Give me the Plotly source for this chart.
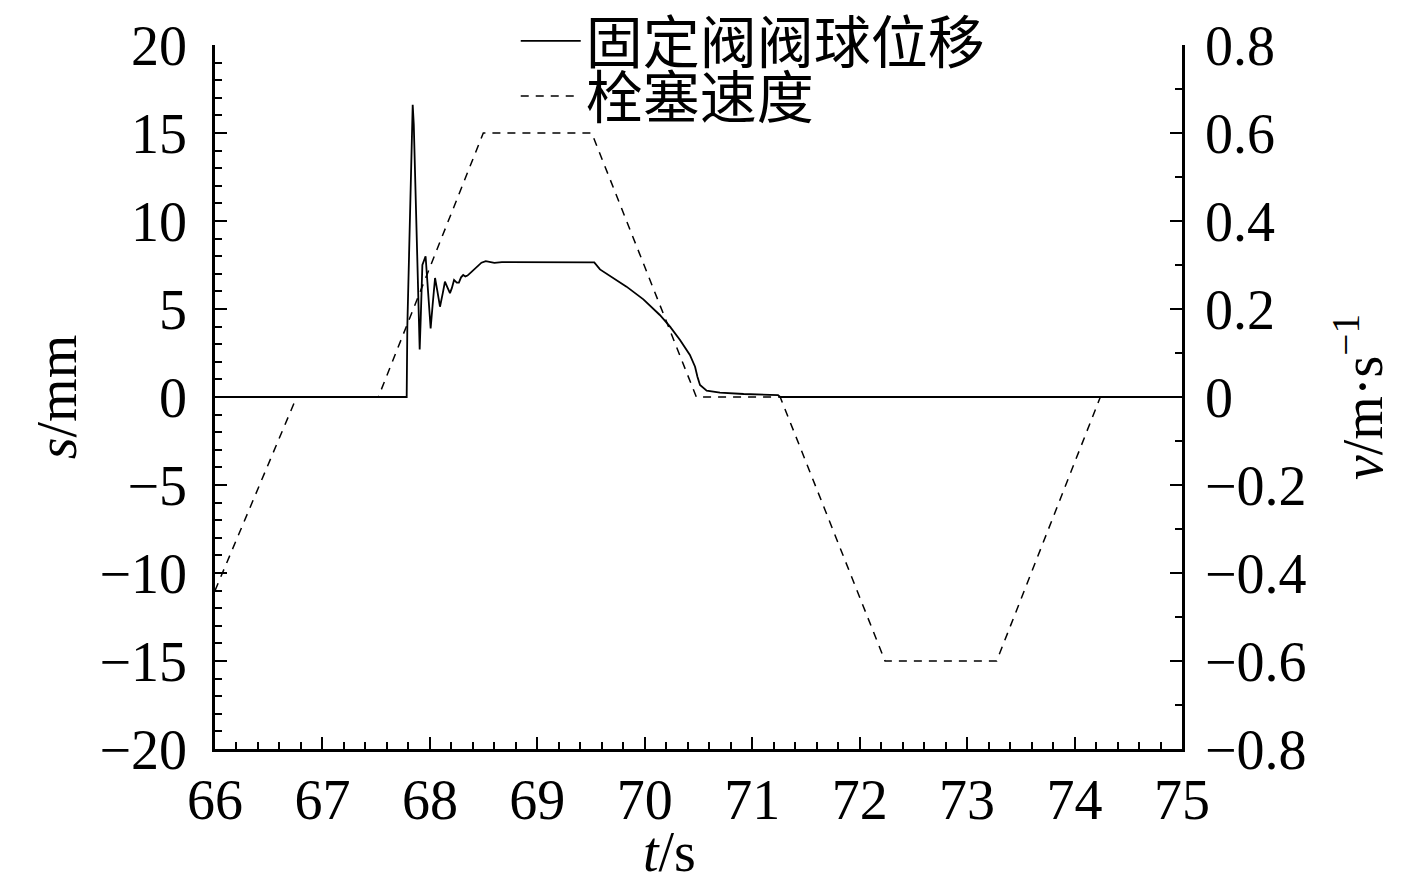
import plotly.graph_objects as go

# Valve ball displacement (solid, left axis, mm)
t_s = [66.0, 67.784, 67.79, 67.815, 67.83, 67.84, 67.85, 67.87, 67.89, 67.905, 67.915, 67.93,
       67.96, 67.97, 67.985, 68.007, 68.025, 68.048, 68.07, 68.094, 68.12, 68.14, 68.165,
       68.187, 68.205, 68.225, 68.25, 68.27, 68.29, 68.31, 68.33, 68.35, 68.39, 68.435,
       68.48, 68.52, 68.56, 68.6, 68.67, 69.53, 69.583, 69.676, 69.83, 69.987, 70.14,
       70.235, 70.328, 70.42, 70.468, 70.49, 70.514, 70.576, 70.70, 70.92, 71.24, 71.26, 75.0]
s_mm = [0, 0, 4.0, 10.0, 15.0, 16.6, 15.5, 10.5, 5.5, 2.7, 4.5, 7.5,
        8.0, 7.2, 5.5, 3.9, 5.2, 6.76, 6.0, 5.13, 5.9, 6.55, 6.2,
        5.9, 6.2, 6.65, 6.5, 6.5, 6.8, 6.93, 6.85, 6.9, 7.12, 7.4,
        7.63, 7.72, 7.68, 7.62, 7.66, 7.65, 7.25, 6.87, 6.27, 5.55, 4.66,
        4.0, 3.24, 2.39, 1.72, 1.15, 0.68, 0.36, 0.25, 0.17, 0.11, 0, 0]

# Plug velocity (dashed, right axis, m/s)
t_v = [66.0, 66.76, 67.52, 68.497, 69.506, 70.48, 71.26, 72.236, 73.275, 74.24, 75.0]
v_ms = [-0.44, 0, 0, 0.6, 0.6, 0, 0, -0.6, -0.6, 0, 0]

names = ["固定阀阀球位移", "栓塞速度"]

fig = go.Figure()
fig.add_trace(go.Scatter(x=t_s, y=s_mm, mode="lines", name=names[0], legend="legend",
                         line=dict(color="black", width=1.8)))
fig.add_trace(go.Scatter(x=t_v, y=v_ms, mode="lines", name=names[1], yaxis="y2", legend="legend2",
                         line=dict(color="black", width=1.5, dash="8px,7px")))

serif = "Liberation Serif, Times New Roman, serif"
tick_font = dict(family=serif, size=56, color="black")
title_font = dict(family=serif, size=56, color="black")
leg_font = dict(family="Noto Sans CJK SC", size=57, color="black")

common_leg = dict(xanchor="left", yanchor="middle", xref="paper", yref="container",
                  bgcolor="rgba(0,0,0,0)", borderwidth=0, font=leg_font, itemwidth=60)

fig.update_layout(
    width=1409, height=876,
    margin=dict(l=207, r=235, t=37, b=135, autoexpand=False),
    paper_bgcolor="white", plot_bgcolor="white",
    showlegend=True,
    legend=dict(x=0.311, y=0.962, **common_leg),
    legend2=dict(x=0.311, y=0.899, **common_leg),
    xaxis=dict(range=[66, 75], tickmode="linear", tick0=66, dtick=1,
               showline=True, linecolor="black", linewidth=2.5, mirror=False,
               ticks="inside", ticklen=12, tickwidth=2, tickcolor="black",
               minor=dict(dtick=0.2, ticks="inside", ticklen=7, tickwidth=2, tickcolor="black"),
               showgrid=False, zeroline=False, tickfont=tick_font,
               ticklabelstandoff=0),
    yaxis=dict(range=[-20, 20], tickmode="linear", tick0=0, dtick=5,
               showline=True, linecolor="black", linewidth=2.5,
               ticks="inside", ticklen=12, tickwidth=2, tickcolor="black",
               minor=dict(dtick=1, ticks="inside", ticklen=7, tickwidth=2, tickcolor="black"),
               showgrid=False, zeroline=False, tickfont=tick_font,
               ticklabelstandoff=14,
               title=dict(text="<i>s</i>/mm", font=title_font, standoff=5)),
    yaxis2=dict(range=[-0.8, 0.8], tickmode="linear", tick0=0, dtick=0.2,
                overlaying="y", side="right",
                showline=True, linecolor="black", linewidth=2.5,
                ticks="inside", ticklen=12, tickwidth=2, tickcolor="black",
                minor=dict(dtick=0.1, ticks="inside", ticklen=7, tickwidth=2, tickcolor="black"),
                showgrid=False, zeroline=False, tickfont=tick_font,
                ticklabelstandoff=9,
                title=dict(text="<i>v</i>/m·s<sup>−1</sup>", font=title_font, standoff=38)),
)

fig.add_annotation(text="<i>t</i>/s", xref="paper", yref="paper",
                   x=0.4705, y=-0.146, xanchor="center", yanchor="middle",
                   showarrow=False, font=title_font)

fig.write_html("out.html")
